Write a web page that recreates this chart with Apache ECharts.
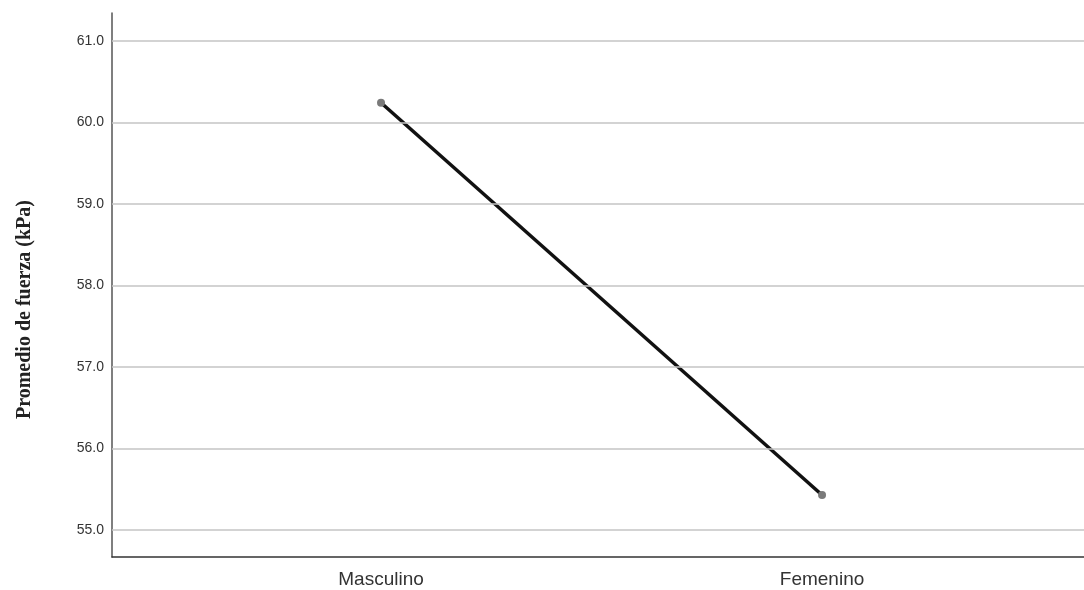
<!DOCTYPE html>
<html>
<head>
<meta charset="utf-8">
<script src="https://cdn.jsdelivr.net/npm/echarts@6/dist/echarts.min.js"></script>
<style>html,body{margin:0;padding:0;background:#fff}#c{width:1084px;height:590px}</style>
</head>
<body>
<div id="c"></div>
<script>
const categories = ['Masculino', 'Femenino'];
const meanForce = [60.24, 55.43];
const yTicks = [55, 56, 57, 58, 59, 60, 61];
const yTitle = 'Promedio de fuerza (kPa)';

const chart = echarts.init(document.getElementById('c'), null, {renderer: 'canvas'});
const catIdx = categories.map((_, i) => i);
chart.setOption({
  animation: false,
  backgroundColor: '#fff',
  grid: {left: 112, top: 13, right: 0, bottom: 33},
  graphic: [{
    type: 'text', left: 15, top: 200, rotation: Math.PI / 2,
    style: {text: yTitle, font: 'bold 20px "Liberation Serif", "Times New Roman", serif', fill: '#222'}
  }],
  xAxis: {
    type: 'value', min: -0.61, max: 1.594,
    splitLine: {show: false},
    axisTick: {show: false},
    axisLine: {show: true, onZero: false, lineStyle: {color: '#333', width: 1.5}},
    axisLabel: {customValues: catIdx, formatter: v => categories[Math.round(v)] || '',
      fontFamily: 'Arial, "Liberation Sans", sans-serif', fontSize: 19, color: '#333', margin: 13}
  },
  yAxis: {
    type: 'value', min: 54.67, max: 61.34,
    splitLine: {show: false},
    axisTick: {show: false},
    axisLine: {show: true, onZero: false, lineStyle: {color: '#555', width: 1.5}},
    axisLabel: {customValues: yTicks, formatter: v => v.toFixed(1),
      fontFamily: 'Arial, "Liberation Sans", sans-serif', fontSize: 14, color: '#333', margin: 8}
  },
  series: [{
    type: 'line', data: [], z: 1, silent: true,
    markLine: {silent: true, symbol: 'none', label: {show: false},
      lineStyle: {type: 'solid', color: '#c4c4c4', width: 1.5},
      data: yTicks.map(t => ({yAxis: t}))}
  }, {
    type: 'line', z: 3,
    data: catIdx.map(i => [i, meanForce[i]]),
    symbol: 'circle', symbolSize: 8,
    itemStyle: {color: '#7a7a7a'},
    lineStyle: {color: '#111', width: 3.5}
  }]
});
</script>
</body>
</html>
